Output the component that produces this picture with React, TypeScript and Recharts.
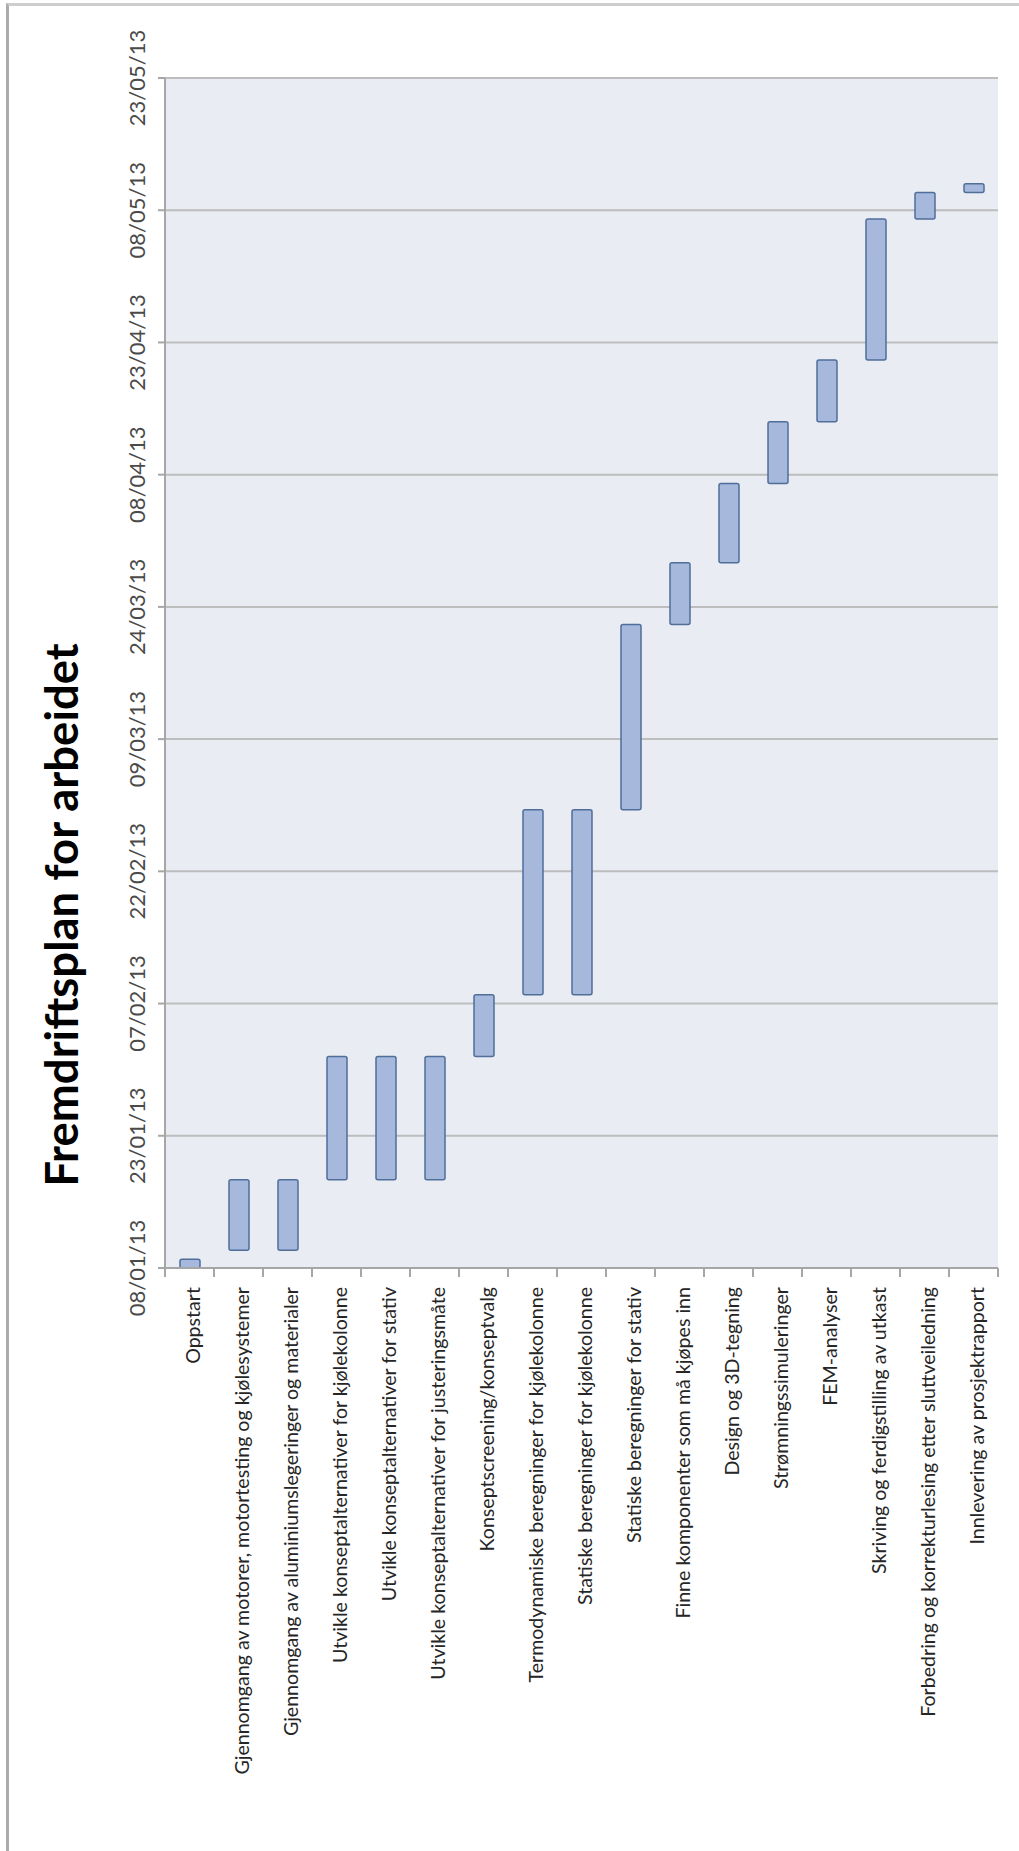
import React from 'react';
import { BarChart, Bar, XAxis, YAxis, CartesianGrid } from 'recharts';

const tasks = [
  'Oppstart',
  'Gjennomgang av motorer, motortesting og kjølesystemer',
  'Gjennomgang av aluminiumslegeringer og materialer',
  'Utvikle konseptalternativer for kjølekolonne',
  'Utvikle konseptalternativer for stativ',
  'Utvikle konseptalternativer for justeringsmåte',
  'Konseptscreening/konseptvalg',
  'Termodynamiske beregninger for kjølekolonne',
  'Statiske beregninger for kjølekolonne',
  'Statiske beregninger for stativ',
  'Finne komponenter som må kjøpes inn',
  'Design og 3D-tegning',
  'Strømningssimuleringer',
  'FEM-analyser',
  'Skriving og ferdigstilling av utkast',
  'Forbedring og korrekturlesing etter sluttveiledning',
  'Innlevering av prosjektrapport',
];

const starts = [
  '08/01/13', '10/01/13', '10/01/13', '18/01/13', '18/01/13', '18/01/13',
  '01/02/13', '08/02/13', '08/02/13', '01/03/13', '22/03/13', '29/03/13',
  '07/04/13', '14/04/13', '21/04/13', '07/05/13', '10/05/13',
];

const ends = [
  '09/01/13', '18/01/13', '18/01/13', '01/02/13', '01/02/13', '01/02/13',
  '08/02/13', '01/03/13', '01/03/13', '22/03/13', '29/03/13', '07/04/13',
  '14/04/13', '21/04/13', '07/05/13', '10/05/13', '11/05/13',
];

const dateTicks = [
  '08/01/13', '23/01/13', '07/02/13', '22/02/13', '09/03/13',
  '24/03/13', '08/04/13', '23/04/13', '08/05/13', '23/05/13',
];

const title = 'Fremdriftsplan for arbeidet';

// dd/mm/yy -> days after first tick date
const toDay = (s: string) => {
  const [d, m, y] = s.split('/').map(Number);
  const [d0, m0, y0] = dateTicks[0].split('/').map(Number);
  return (Date.UTC(2000 + y, m - 1, d) - Date.UTC(2000 + y0, m0 - 1, d0)) / 86400000;
};

const data = tasks.map((task, i) => ({ task, range: [toDay(starts[i]), toDay(ends[i])] }));
const tickDays = dateTicks.map(toDay);

const W = 1019;
const H = 1851;
const MARGIN = { top: 78, right: 21, bottom: 0, left: 0 };
const Y_W = 165;
const X_H = 583;
const BAND = (W - MARGIN.left - MARGIN.right - Y_W) / tasks.length;
const FONT = 'Lato, "Open Sans", sans-serif';

const DateTick = (props: any) => {
  const { x, y, payload } = props;
  const label = dateTicks[tickDays.indexOf(payload.value)] ?? '';
  return (
    <g transform={`translate(${x - 13},${y}) rotate(-90)`}>
      <text x={0} y={0} textAnchor="middle" fontSize={22} fontFamily={FONT} fill="#4a4a4a">
        {label}
      </text>
    </g>
  );
};

const TaskTick = (props: any) => {
  const { x, y, payload, index } = props;
  const left = x - BAND / 2;
  return (
    <g>
      <line x1={left} y1={y} x2={left} y2={y + 9} stroke="#a6a6a6" strokeWidth={2} />
      {index === tasks.length - 1 && (
        <line x1={x + BAND / 2} y1={y} x2={x + BAND / 2} y2={y + 9} stroke="#a6a6a6" strokeWidth={2} />
      )}
      <g transform={`translate(${x + 10},${y + 19}) rotate(-90)`}>
        <text x={0} y={0} textAnchor="end" fontSize={19.6} fontFamily={FONT} fill="#262626">
          {payload.value}
        </text>
      </g>
    </g>
  );
};

export default function App() {
  return (
    <div style={{ position: 'absolute', left: 0, top: 0, width: W, height: H, background: '#fff', overflow: 'hidden' }}>
      <div
        style={{
          position: 'absolute',
          left: 6,
          top: 3,
          width: W - 6,
          height: H - 3,
          borderTop: '3px solid #cdcdcd',
          borderLeft: '3px solid #ababab',
          boxSizing: 'border-box',
        }}
      />
      <div style={{ position: 'absolute', left: 0, top: 0 }}>
        <BarChart width={W} height={H} data={data} margin={MARGIN} barSize={20}>
          <CartesianGrid vertical={false} fill="#e9ecf2" stroke="#bdbdbd" strokeWidth={2} />
          <XAxis
            dataKey="task"
            interval={0}
            height={X_H}
            tickSize={0}
            tickMargin={0}
            tickLine={false}
            axisLine={{ stroke: '#a6a6a6', strokeWidth: 2 }}
            tick={<TaskTick />}
          />
          <YAxis
            type="number"
            width={Y_W}
            domain={[tickDays[0], tickDays[tickDays.length - 1]]}
            ticks={tickDays}
            interval={0}
            allowDataOverflow
            tickSize={7}
            tickMargin={0}
            tickLine={{ stroke: '#a6a6a6', strokeWidth: 2 }}
            axisLine={{ stroke: '#a6a6a6', strokeWidth: 2 }}
            tick={<DateTick />}
          />
          <Bar
            dataKey="range"
            fill="#a6b9dc"
            stroke="#4f6e99"
            strokeWidth={1.5}
            radius={2}
            isAnimationActive={false}
          />
        </BarChart>
      </div>
      <svg width={W} height={H} style={{ position: 'absolute', left: 0, top: 0, pointerEvents: 'none' }}>
        <text
          transform="translate(78,915) rotate(-90)"
          textAnchor="middle"
          fontSize={45.5}
          fontWeight="bold"
          fontFamily={FONT}
          fill="#000"
        >
          {title}
        </text>
      </svg>
    </div>
  );
}
